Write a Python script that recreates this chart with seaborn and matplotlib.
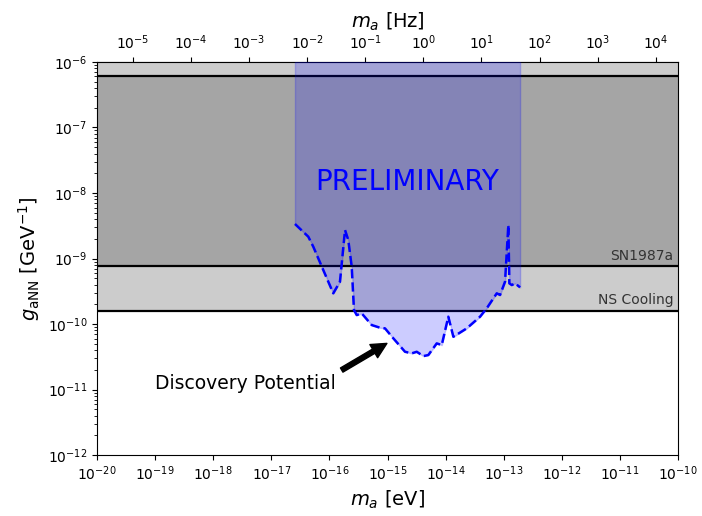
import numpy as np
import pandas as pd
import matplotlib
matplotlib.use("Agg")
import matplotlib.pyplot as plt
import seaborn as sns
from matplotlib.ticker import LogLocator, NullLocator

# ---- data (log10 values) ----
log_mass_ev = [-16.592, -16.363, -16.277, -16.105, -15.933, -15.818, -15.731, -15.675,
               -15.616, -15.577, -15.530, -15.444, -15.272, -15.129, -15.043, -14.900,
               -14.699, -14.583, -14.497, -14.384, -14.298, -14.153, -14.067, -13.954,
               -13.867, -13.637, -13.408, -13.293, -13.179, -13.120, -13.064, -12.978,
               -12.921, -12.904, -12.862, -12.806, -12.719]
log_g_nn = [-8.473, -8.667, -8.820, -9.176, -9.531, -9.354, -8.565, -8.718,
            -9.125, -9.786, -9.863, -9.837, -10.015, -10.056, -10.066, -10.218,
            -10.423, -10.447, -10.423, -10.489, -10.473, -10.295, -10.321, -9.888,
            -10.194, -10.066, -9.888, -9.760, -9.608, -9.531, -9.557, -9.354,
            -8.489, -9.379, -9.405, -9.379, -9.440]

sn1987a_limit = 7.7e-10
ns_cooling_limit = 1.6e-10
upper_limit = 6.1e-7
bound_labels = ["SN1987a", "NS Cooling"]

EV_TO_HZ = 2.418e14

mass = np.power(10.0, log_mass_ev)
gnn = np.power(10.0, log_g_nn)
df = pd.DataFrame({"mass": mass, "g": gnn})

fig = plt.figure(figsize=(7.02, 5.16), dpi=100)
ax = fig.add_axes([0.138, 0.118, 0.828, 0.762])
ax.set_xscale("log")
ax.set_yscale("log")
ax.set_xlim(1e-20, 1e-10)
ax.set_ylim(1e-12, 1e-6)

xlo, xhi = 1e-20, 1e-10
# excluded regions
ax.fill_between([xlo, xhi], ns_cooling_limit, 1e-6, color="#cccccc", lw=0, zorder=1)
ax.fill_between([xlo, xhi], sn1987a_limit, upper_limit, color="#a5a5a5", lw=0, zorder=1.1)
for yv in (upper_limit, sn1987a_limit, ns_cooling_limit):
    ax.axhline(yv, color="black", lw=1.6, zorder=2)

# discovery region
ax.fill_between(df["mass"], df["g"], 1e-6, color="blue", alpha=0.2, lw=1, zorder=3)
sns.lineplot(data=df, x="mass", y="g", sort=False, ax=ax, color="blue",
             linestyle="--", lw=1.8, zorder=4, estimator=None)

ax.text(10**-10.08, sn1987a_limit * 1.12, bound_labels[0], ha="right", va="bottom",
        fontsize=10, color="#333333", zorder=5)
ax.text(10**-10.08, ns_cooling_limit * 1.12, bound_labels[1], ha="right", va="bottom",
        fontsize=10, color="#333333", zorder=5)

ax.text(10**-14.656, 10**-7.827, "PRELIMINARY", color="blue", fontsize=20,
        ha="center", va="center", zorder=5)
ax.text(10**-17.44, 10**-10.90, "Discovery Potential", fontsize=13.5,
        ha="center", va="center", zorder=5)
ax.annotate("", xy=(10**-15.01, 10**-10.295), xytext=(10**-15.788, 10**-10.702),
            arrowprops=dict(facecolor="black", edgecolor="black", width=3.5,
                            headwidth=11, headlength=11, shrink=0), zorder=5)

ax.set_xlabel("$m_a$ [eV]", fontsize=14)
ax.set_ylabel(r"$g_{\rm aNN}$ [GeV$^{-1}$]", fontsize=14)
ax.xaxis.set_major_locator(LogLocator(base=10, numticks=20))
ax.xaxis.set_minor_locator(NullLocator())
ax.yaxis.set_minor_locator(LogLocator(base=10, subs=np.arange(2, 10), numticks=20))

sec = ax.secondary_xaxis("top", functions=(lambda m: m * EV_TO_HZ, lambda f: f / EV_TO_HZ))
sec.set_xlabel("$m_a$ [Hz]", fontsize=14)
sec.xaxis.set_major_locator(LogLocator(base=10, numticks=20))
sec.xaxis.set_minor_locator(NullLocator())

fig.savefig("out.png", dpi=100)
